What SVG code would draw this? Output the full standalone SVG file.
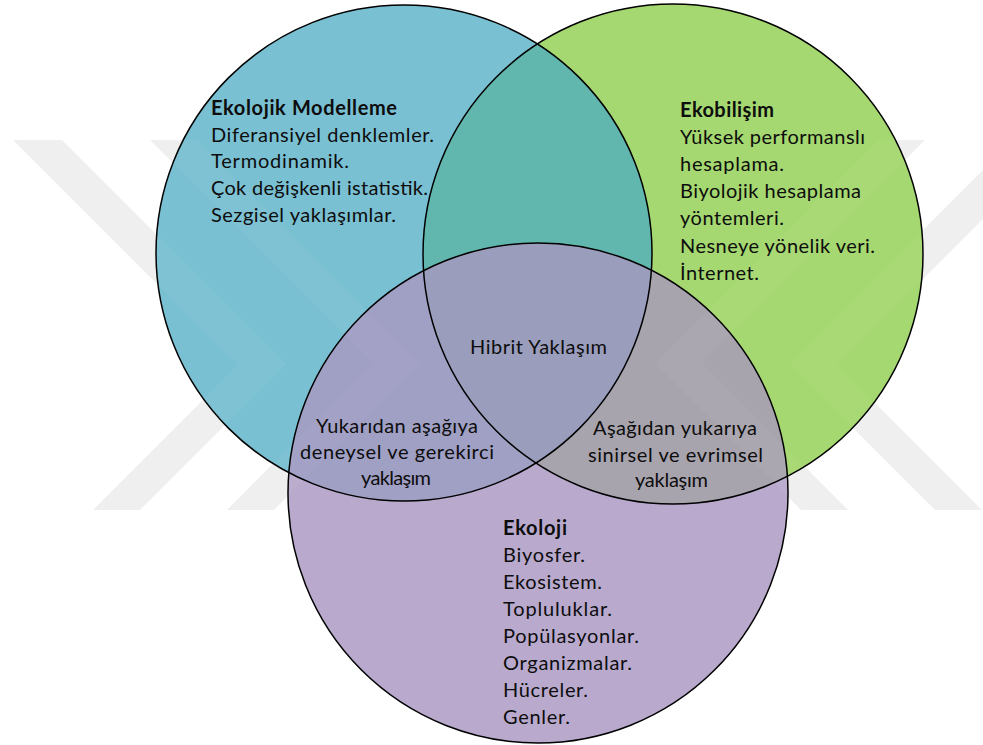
<svg xmlns="http://www.w3.org/2000/svg" width="983" height="745" viewBox="0 0 983 745">
  <style>
    text { font-family: Lato, "Liberation Sans", sans-serif; font-size: 20px; fill: #0d0d0d; }
    .b { font-weight: bold; }
    .mid { text-anchor: middle; }
    .ring { fill: none; stroke: #000; stroke-width: 1.5; }
    .wm { fill: #efefef; }
    .wm-tint { fill: #ffffff; fill-opacity: 0.035; }
  </style>
  <defs>
    <clipPath id="clipT"><circle cx="404" cy="253" r="248"/></clipPath>
    <clipPath id="clipG"><circle cx="673" cy="254" r="250"/></clipPath>
    <clipPath id="clipP"><circle cx="538" cy="493" r="250"/></clipPath>
    <g id="chevrons">
      <polygon points="13,140 62,140 286,364 140,510 93,510 238,365"/>
      <polygon points="150,140 197,140 420,363 274,510 227,510 373,363"/>
      <polygon points="925,140 878,140 655,363 801,510 848,510 702,363"/>
      <polygon points="1062,140 1013,140 789,364 935,510 982,510 837,365"/>
    </g>
  </defs>

  <rect width="983" height="745" fill="#ffffff"/>

  <!-- faint background mark -->
  <use href="#chevrons" class="wm"/>

  <!-- region fills: single sets, then pairwise and triple overlaps -->
  <g id="fills">
    <circle cx="404" cy="253" r="248" fill="#7AC0D3"/>
    <circle cx="673" cy="254" r="250" fill="#A5D870"/>
    <circle cx="538" cy="493" r="250" fill="#B9AACD"/>
    <g clip-path="url(#clipT)"><circle cx="673" cy="254" r="250" fill="#61B7AE"/></g>
    <g clip-path="url(#clipT)"><circle cx="538" cy="493" r="250" fill="#A09FC4"/></g>
    <g clip-path="url(#clipG)"><circle cx="538" cy="493" r="250" fill="#A8A4AE"/></g>
    <g clip-path="url(#clipT)"><g clip-path="url(#clipG)"><circle cx="538" cy="493" r="250" fill="#9A9EBC"/></g></g>
  </g>
  <use href="#chevrons" class="wm-tint"/>

  <g id="ekolojik-modelleme">
    <circle class="ring" cx="404" cy="253" r="248"/>
    <text class="b" x="211" y="115" textLength="186" lengthAdjust="spacing">Ekolojik Modelleme</text>
    <text x="211" y="142" textLength="223" lengthAdjust="spacing">Diferansiyel denklemler.</text>
    <text x="211" y="168" textLength="138" lengthAdjust="spacing">Termodinamik.</text>
    <text x="211" y="195" textLength="217" lengthAdjust="spacing">Çok değişkenli istatistik.</text>
    <text x="211" y="222" textLength="185" lengthAdjust="spacing">Sezgisel yaklaşımlar.</text>
  </g>

  <g id="ekobilisim">
    <circle class="ring" cx="673" cy="254" r="250"/>
    <text class="b" x="680" y="117" textLength="94" lengthAdjust="spacing">Ekobilişim</text>
    <text x="680" y="144" textLength="185" lengthAdjust="spacing">Yüksek performanslı</text>
    <text x="680" y="171" textLength="104" lengthAdjust="spacing">hesaplama.</text>
    <text x="680" y="198" textLength="181" lengthAdjust="spacing">Biyolojik hesaplama</text>
    <text x="680" y="225" textLength="104" lengthAdjust="spacing">yöntemleri.</text>
    <text x="680" y="253" textLength="195" lengthAdjust="spacing">Nesneye yönelik veri.</text>
    <text x="680" y="280" textLength="79" lengthAdjust="spacing">İnternet.</text>
  </g>

  <g id="ekoloji">
    <circle class="ring" cx="538" cy="493" r="250"/>
    <text class="b" x="503" y="535" textLength="64" lengthAdjust="spacing">Ekoloji</text>
    <text x="503" y="562" textLength="82" lengthAdjust="spacing">Biyosfer.</text>
    <text x="503" y="589" textLength="99" lengthAdjust="spacing">Ekosistem.</text>
    <text x="503" y="616" textLength="109" lengthAdjust="spacing">Topluluklar.</text>
    <text x="503" y="643" textLength="136" lengthAdjust="spacing">Popülasyonlar.</text>
    <text x="503" y="670" textLength="129" lengthAdjust="spacing">Organizmalar.</text>
    <text x="503" y="697" textLength="85" lengthAdjust="spacing">Hücreler.</text>
    <text x="503" y="724" textLength="67" lengthAdjust="spacing">Genler.</text>
  </g>

  <g id="hibrit">
    <text class="mid" x="538.5" y="354" textLength="137" lengthAdjust="spacing">Hibrit Yaklaşım</text>
  </g>

  <g id="yukaridan-asagiya">
    <text class="mid" x="397" y="433" textLength="162" lengthAdjust="spacing">Yukarıdan aşağıya</text>
    <text class="mid" x="397" y="459" textLength="194" lengthAdjust="spacing">deneysel ve gerekirci</text>
    <text class="mid" x="396" y="485" textLength="70" lengthAdjust="spacing">yaklaşım</text>
  </g>

  <g id="asagidan-yukariya">
    <text class="mid" x="675" y="435" textLength="164" lengthAdjust="spacing">Aşağıdan yukarıya</text>
    <text class="mid" x="675.5" y="462" textLength="175" lengthAdjust="spacing">sinirsel ve evrimsel</text>
    <text class="mid" x="671.5" y="487" textLength="73" lengthAdjust="spacing">yaklaşım</text>
  </g>
</svg>
